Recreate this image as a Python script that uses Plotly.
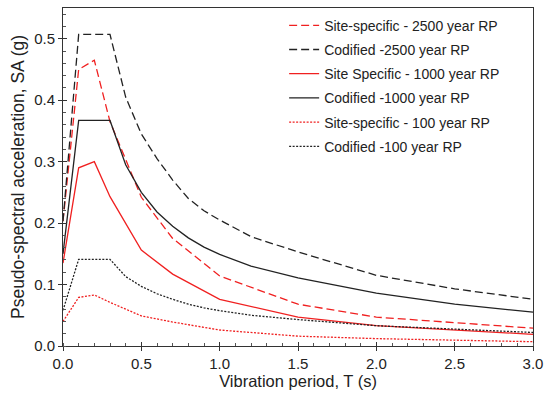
import plotly.graph_objects as go

# Periods (s)
T_site = [0.0, 0.1, 0.2, 0.3, 0.5, 0.7, 1.0, 1.5, 2.0, 3.0]
T_code = [0.0, 0.1, 0.3, 0.4, 0.5, 0.6, 0.7, 0.8, 0.9, 1.0, 1.2, 1.5, 2.0, 2.5, 3.0]

site_2500 = [0.203, 0.450, 0.465, 0.365, 0.242, 0.175, 0.114, 0.068, 0.047, 0.029]
code_2500 = [0.203, 0.507, 0.507, 0.405, 0.345, 0.305, 0.270, 0.240, 0.220, 0.205, 0.178, 0.153, 0.115, 0.093, 0.076]
site_1000 = [0.135, 0.290, 0.300, 0.243, 0.156, 0.117, 0.076, 0.047, 0.033, 0.019]
code_1000 = [0.150, 0.367, 0.367, 0.295, 0.250, 0.218, 0.195, 0.176, 0.161, 0.149, 0.130, 0.111, 0.086, 0.068, 0.055]
site_100 = [0.040, 0.079, 0.083, 0.071, 0.049, 0.039, 0.026, 0.016, 0.012, 0.007]
code_100 = [0.058, 0.141, 0.141, 0.113, 0.097, 0.085, 0.076, 0.068, 0.062, 0.0575, 0.050, 0.043, 0.033, 0.027, 0.022]

names = [
    "Site-specific - 2500 year RP",
    "Codified -2500 year RP",
    "Site Specific - 1000 year RP",
    "Codified -1000 year RP",
    "Site-specific - 100 year RP",
    "Codified -100 year RP",
]

RED = "#f02020"
BLK = "#222222"
LONG = "8px,4px"
SHORT = "2px,1.5px"

series = [
    (T_site, site_2500, RED, LONG),
    (T_code, code_2500, BLK, LONG),
    (T_site, site_1000, RED, "solid"),
    (T_code, code_1000, BLK, "solid"),
    (T_site, site_100, RED, SHORT),
    (T_code, code_100, BLK, SHORT),
]

fig = go.Figure()
for i, ((x, y, c, d), n) in enumerate(zip(series, names)):
    fig.add_trace(go.Scatter(x=x, y=y, mode="lines", name=n, legendgroup=f"g{i}",
                             line=dict(color=c, width=1.3, dash=d)))

# invisible trace on overlay axes to show inside portion of major ticks
fig.add_trace(go.Scatter(x=[0, 3], y=[0, 0.55], xaxis="x2", yaxis="y2", mode="markers",
                         marker=dict(opacity=0), showlegend=False, hoverinfo="skip"))

FAM = "Liberation Sans, Arial, sans-serif"
tickfont = dict(family=FAM, size=15, color="#222222")

fig.update_layout(
    width=550, height=394,
    margin=dict(l=63, r=12, t=7, b=47),
    paper_bgcolor="white", plot_bgcolor="white",
    font=dict(family=FAM, color="#222222"),
    legend=dict(x=0.4705, y=0.995, xanchor="left", yanchor="top",
                font=dict(size=14, color="#222222"),
                bgcolor="rgba(0,0,0,0)", tracegroupgap=3, itemwidth=30),
    xaxis=dict(range=[0, 3], dtick=0.5, tickformat=".1f", showgrid=False, zeroline=False,
               showline=True, linecolor="#333333", linewidth=1, mirror=True,
               ticks="outside", ticklen=4, tickcolor="#333333", tickfont=tickfont,
               minor=dict(dtick=0.1, ticks="inside", ticklen=3, tickcolor="#555555"),
               title=dict(text="Vibration period, T (s)", font=dict(family=FAM, size=16.5, color="#222222"),
                          standoff=3)),
    yaxis=dict(range=[0, 0.55], dtick=0.1, tickformat=".1f", showgrid=False, zeroline=False,
               showline=True, linecolor="#333333", linewidth=1, mirror=True,
               ticks="outside", ticklen=4, tickcolor="#333333", tickfont=tickfont,
               minor=dict(dtick=0.02, ticks="inside", ticklen=3, tickcolor="#555555"),
               title=dict(text="Pseudo-spectral acceleration, SA (g)",
                          font=dict(family=FAM, size=17.5, color="#222222"), standoff=5)),
    xaxis2=dict(range=[0, 3], dtick=0.5, overlaying="x", showgrid=False, zeroline=False,
                showline=False, ticks="inside", ticklen=4, tickcolor="#333333",
                showticklabels=False, anchor="y2", side="bottom"),
    yaxis2=dict(range=[0, 0.55], dtick=0.1, overlaying="y", showgrid=False, zeroline=False,
                showline=False, ticks="inside", ticklen=4, tickcolor="#333333",
                showticklabels=False, anchor="x2", side="left"),
)

fig.write_html("out.html", config={"displayModeBar": False},
               post_script="document.body.style.margin='0';document.body.style.overflow='hidden';")
